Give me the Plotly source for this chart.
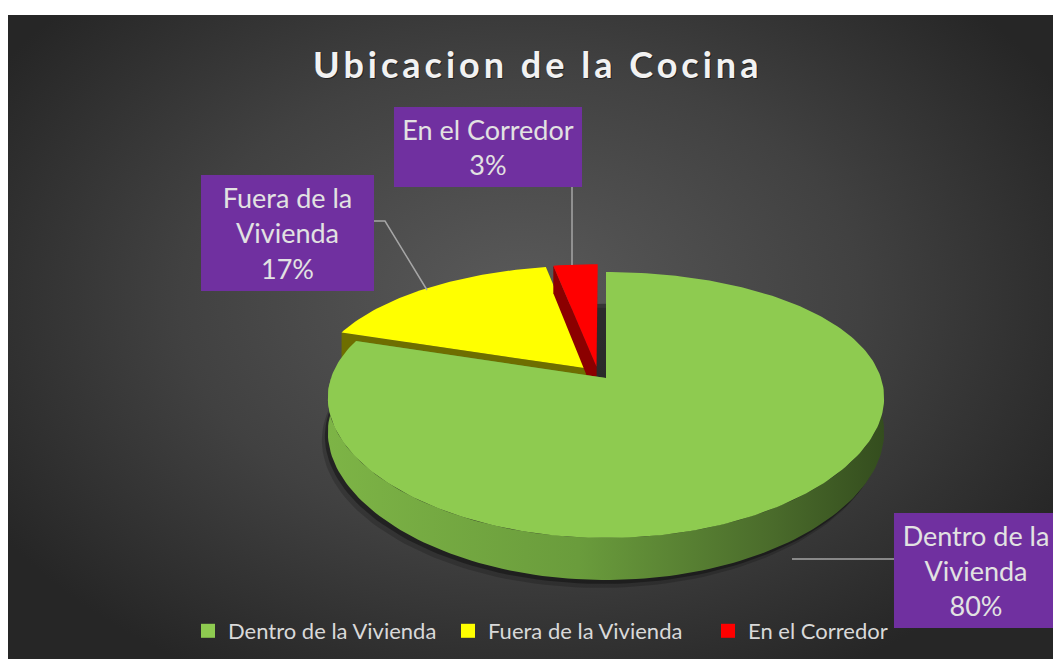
import numpy as np
import plotly.graph_objects as go

# ---------------- data ----------------
categories = ["Dentro de la Vivienda", "Fuera de la Vivienda", "En el Corredor"]
values = [80, 17, 3]
label_lines = [["Dentro de la", "Vivienda"], ["Fuera de la", "Vivienda"], ["En el Corredor"]]
title_text = "Ubicacion de la Cocina"

# ---------------- style ----------------
top_colors = ["#8ecb50", "#ffff00", "#ff0000"]
cut_colors = ["#5e8a33", "#6e6e00", "#8b0000"]
# explosion offsets (in the pie plane, fraction of radius): (x, depth)
explode = [(0.0, 0.0), (-0.066, 0.075), (-0.035, 0.09)]
W, H = 1053, 659
CX, CY = 606, 378          # projected pie centre (px)
A, B = 275, 127.5          # horizontal / vertical radius scale
PX, PY = 0.15, 0.203       # perspective factors
DEPTH = 33.5               # thickness

def proj(X, Z, down=0.0):
    X = np.asarray(X, float); Z = np.asarray(Z, float)
    x = CX + A * X / (1 + PX * Z)
    y = CY - B * Z / (1 + PY * Z) + down * DEPTH / (1 + PY * Z)
    return x, y

total = float(sum(values))
fr = np.array(values) / total
ends = np.cumsum(fr) * 2 * np.pi
starts = ends - fr * 2 * np.pi

fig = go.Figure()

# background with radial gradient
fig.add_trace(go.Scatter(
    x=[-100, 1140, 1140, -100, -100], y=[-130, -130, 730, 730, -130],
    mode="lines", fill="toself", line=dict(width=0),
    fillgradient=dict(type="radial", colorscale=[[0, "#5a5a5a"], [0.55, "#414141"], [1, "#262626"]]),
    hoverinfo="skip", showlegend=False))

# shadow under pie
th = np.linspace(0, 2 * np.pi, 200)
for off, op in [((-6, 8), 0.18), ((-3, 4), 0.35)]:
    sx, sy = proj(np.sin(th), np.cos(th), 1.0)
    fig.add_trace(go.Scatter(x=sx + off[0], y=sy + off[1], mode="lines", fill="toself",
                             line=dict(width=0), fillcolor=f"rgba(0,0,0,{op})",
                             hoverinfo="skip", showlegend=False))

def slice_traces(i):
    a0, a1 = starts[i], ends[i]
    ex, ez = explode[i]
    # cut faces
    for a in (a0, a1):
        X = np.array([ex, ex + np.sin(a), ex + np.sin(a), ex])
        Z = np.array([ez, ez + np.cos(a), ez + np.cos(a), ez])
        dn = np.array([0, 0, 1, 1])
        x, y = proj(X, Z, dn)
        fig.add_trace(go.Scatter(x=np.append(x, x[0]), y=np.append(y, y[0]), mode="lines",
                                 fill="toself", fillcolor=cut_colors[i], line=dict(width=0),
                                 hoverinfo="skip", showlegend=False))
    # outer wall (front part)
    w0, w1 = max(a0, np.pi / 2), min(a1, 3 * np.pi / 2)
    if w1 > w0:
        t = np.linspace(w0, w1, 120)
        xt, yt = proj(ex + np.sin(t), ez + np.cos(t), 0.0)
        xb, yb = proj(ex + np.sin(t), ez + np.cos(t), 1.0)
        fig.add_trace(go.Scatter(x=np.concatenate([xt, xb[::-1], xt[:1]]),
                                 y=np.concatenate([yt, yb[::-1], yt[:1]]),
                                 mode="lines", fill="toself", line=dict(width=0),
                                 fillgradient=dict(type="horizontal", colorscale=[
                                     [0, "#7db446"], [0.45, "#6a9c3c"], [0.8, "#4a6b2b"], [1, "#344d1e"]]),
                                 hoverinfo="skip", showlegend=False))
    # top face
    n = max(6, int(300 * fr[i]))
    t = np.linspace(a0, a1, n)
    X = np.concatenate([[ex], ex + np.sin(t), [ex]])
    Z = np.concatenate([[ez], ez + np.cos(t), [ez]])
    x, y = proj(X, Z, 0.0)
    fig.add_trace(go.Scatter(x=x, y=y, mode="lines", fill="toself", fillcolor=top_colors[i],
                             line=dict(width=0), hoverinfo="skip", showlegend=False))

for i in (1, 2, 0):
    slice_traces(i)

# legend entries
for cat, col in zip(categories, top_colors):
    fig.add_trace(go.Scatter(x=[None], y=[None], mode="markers", name=cat,
                             marker=dict(symbol="square", size=14, color=col)))

# data label boxes
box_specs = [  # centre x, centre y, width, height
    (976, 570.5, 164, 115),
    (287.5, 233, 173, 116),
    (488, 147, 188, 80),
]
annotations = []
annotations.append(dict(x=538.5, y=65.5, xref="x", yref="y", text=title_text, showarrow=False,
                        font=dict(family="Lato", size=36, color="rgba(0,0,0,0.45)", weight="bold")))
annotations.append(dict(x=537, y=64, xref="x", yref="y", text=title_text, showarrow=False,
                        font=dict(family="Lato", size=36, color="#f2f2f2", weight="bold")))
for i, (bx, by, bw, bh) in enumerate(box_specs):
    pct = round(values[i] / total * 100)
    txt = "<br>".join(label_lines[i] + [f"{pct}%"])
    annotations.append(dict(x=bx, y=by, xref="x", yref="y", text=txt, showarrow=False,
                            width=bw, height=bh, bgcolor="#7030a0", borderpad=0, borderwidth=0,
                            align="center", valign="middle",
                            font=dict(family="Lato", size=27, color="#e2e2e2")))

leader = dict(color="#a6a6a6", width=1.5)
shapes = [
    dict(type="line", xref="x", yref="y", x0=792, y0=559, x1=894, y1=559, line=leader),
    dict(type="path", xref="x", yref="y", path="M374,221 L385,221 L427,290", line=leader),
    dict(type="line", xref="x", yref="y", x0=572, y0=187, x1=572, y1=265, line=leader),
]

fig.update_layout(
    width=W, height=H, margin=dict(l=0, r=0, t=0, b=0),
    paper_bgcolor="white", plot_bgcolor="#262626",
    xaxis=dict(domain=[8 / W, 1], range=[8, W], visible=False, fixedrange=True),
    yaxis=dict(domain=[0, (H - 15) / H], range=[H, 15], visible=False, fixedrange=True),
    showlegend=True,
    legend=dict(orientation="h", x=188 / W, xanchor="left", y=1 - 631 / H, yanchor="middle",
                font=dict(family="Lato", size=22, color="#d9d9d9"), bgcolor="rgba(0,0,0,0)",
                itemwidth=30, itemclick=False, entrywidth=215, entrywidthmode="pixels"),
    annotations=annotations, shapes=shapes,
)

post = """
document.body.style.margin = '0px';
document.querySelectorAll('.annotation-text').forEach(function (e) {
  if (e.textContent.indexOf('Ubicacion') >= 0) { e.style.letterSpacing = '4px'; }
});
"""
fig.write_html("out.html", post_script=post, config={"displayModeBar": False})
